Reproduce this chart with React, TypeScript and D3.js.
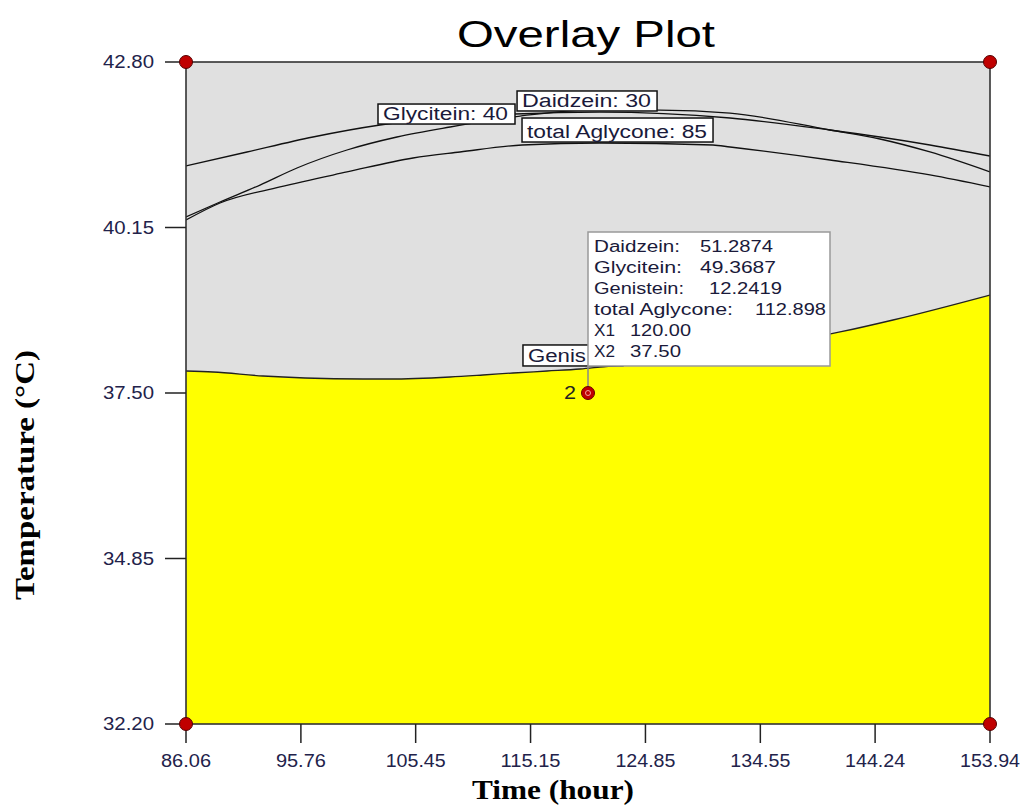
import React from 'react';
import * as d3 from 'd3';

// ---- Data ----
const xTickValues = [86.06, 95.76, 105.45, 115.15, 124.85, 134.55, 144.24, 153.94];
const yTickValues = [32.2, 34.85, 37.5, 40.15, 42.8];

// Contour: Glycitein = 40
const glyTime = [86.06, 91.21, 96.78, 102.44, 113.84, 121.01, 131.99, 140.43, 144.65, 148.87, 153.94];
const glyTemp = [41.135, 41.359, 41.599, 41.791, 41.967, 41.999, 41.903, 41.711, 41.599, 41.471, 41.295];

// Contour: Daidzein = 30
const daiTime = [86.06, 88.93, 92.31, 95.43, 99.65, 103.87, 108.35, 114.26, 120.17, 126.08, 131.99, 140.43, 144.65, 148.87, 153.94];
const daiTemp = [40.318, 40.558, 40.830, 41.103, 41.391, 41.599, 41.759, 41.935, 42.031, 42.031, 41.983, 41.711, 41.567, 41.359, 41.039];

// Contour: total Aglycone = 85
const aglTime = [86.06, 88.93, 94.0, 99.65, 105.23, 109.19, 114.43, 121.01, 130.55, 131.99, 140.43, 148.87, 153.94];
const aglTemp = [40.270, 40.542, 40.799, 41.039, 41.263, 41.359, 41.471, 41.503, 41.471, 41.439, 41.231, 40.991, 40.799];

// Contour: Genistein = 10 (upper edge of the feasible yellow region)
const genTime = [86.06, 88.34, 92.56, 96.11, 101.0, 103.28, 108.35, 111.13, 113.67, 116.54, 119.33, 121.01, 129.46, 135.37, 141.28, 145.75, 153.94];
const genTemp = [37.852, 37.836, 37.772, 37.740, 37.724, 37.724, 37.756, 37.788, 37.820, 37.852, 37.884, 37.916, 38.092, 38.268, 38.477, 38.669, 39.069];

// Design point
const pointTime = 120.0;
const pointTemp = 37.5;
const pointName = '2';
const tipNames = ['Daidzein:', 'Glycitein:', 'Genistein:', 'total Aglycone:', 'X1', 'X2'];
const tipValues = ['51.2874', '49.3687', '12.2419', '112.898', '120.00', '37.50'];

// ---- Layout ----
const W = 1021;
const H = 805;
const L = 186, R = 990, TOP = 62, BOT = 724;

const xS = d3.scaleLinear().domain([86.06, 153.94]).range([L, R]);
const yS = d3.scaleLinear().domain([32.2, 42.8]).range([BOT, TOP]);

const zip = (a: number[], b: number[]) => a.map((v, i) => [v, b[i]] as [number, number]);

const line = d3.line<[number, number]>().x(d => xS(d[0])).y(d => yS(d[1])).curve(d3.curveMonotoneX);
const area = d3.area<[number, number]>().x(d => xS(d[0])).y0(BOT).y1(d => yS(d[1])).curve(d3.curveMonotoneX);

const SANS = '"Liberation Sans", Arial, sans-serif';
const SERIF = '"Liberation Serif", "Times New Roman", serif';
const TICK_COLOR = '#22224a';

function T(props: { x: number; y: number; w: number; size: number; children: string; fill?: string; weight?: string; family?: string }) {
  return (
    <text x={props.x} y={props.y} fontSize={props.size} fontFamily={props.family || SANS}
      fontWeight={props.weight || 'normal'} fill={props.fill || '#111'}
      textLength={props.w} lengthAdjust="spacingAndGlyphs" style={{ whiteSpace: 'pre' }}>
      {props.children}
    </text>
  );
}

function LabelBox(props: { t: number; temp: number; w: number; h: number; text: string; tw: number }) {
  const x = xS(props.t);
  const y = yS(props.temp);
  return (
    <g>
      <rect x={x} y={y} width={props.w} height={props.h} fill="#fff" stroke="#111" strokeWidth={1.5} />
      <T x={x + 5} y={y + props.h - 4} w={props.tw} size={18} fill="#1a1a3a">{props.text}</T>
    </g>
  );
}

export default function App() {
  const px = xS(pointTime);
  const py = yS(pointTemp);
  const tipX = px, tipY = py - 161, tipW = 242, tipH = 134;
  const valueX = [700, 700, 709, 755, 630, 630];
  const valueW = [73, 76, 73, 71, 61, 51];
  const nameW = [86, 88, 90, 139, 21, 21];
  const corners: [number, number][] = [[86.06, 32.2], [86.06, 42.8], [153.94, 32.2], [153.94, 42.8]];

  return (
    <svg width={W} height={H} style={{ position: 'absolute', left: 0, top: 0, background: '#fff' }}>
      <defs>
        <clipPath id="plotClip"><rect x={L} y={TOP} width={R - L} height={BOT - TOP} /></clipPath>
      </defs>
      {/* Title */}
      <T x={457} y={47} w={258} size={36} fill="#000">Overlay Plot</T>

      {/* Plot background */}
      <rect x={L} y={TOP} width={R - L} height={BOT - TOP} fill="#e0e0e0" />
      <g clipPath="url(#plotClip)">
        <path d={area(zip(genTime, genTemp)) || ''} fill="#ffff00" />
        <path d={line(zip(genTime, genTemp)) || ''} fill="none" stroke="#222" strokeWidth={1.3} />
        <path d={line(zip(glyTime, glyTemp)) || ''} fill="none" stroke="#111" strokeWidth={1.3} />
        <path d={line(zip(daiTime, daiTemp)) || ''} fill="none" stroke="#111" strokeWidth={1.3} />
        <path d={line(zip(aglTime, aglTemp)) || ''} fill="none" stroke="#111" strokeWidth={1.3} />
      </g>

      {/* Contour labels */}
      <LabelBox t={102.27} temp={42.127} w={137} h={20} text="Glycitein: 40" tw={125} />
      <LabelBox t={114.01} temp={42.336} w={140} h={20} text="Daidzein: 30" tw={129} />
      <LabelBox t={114.43} temp={41.903} w={191} h={24} text="total Aglycone: 85" tw={180} />
      <LabelBox t={114.51} temp={38.269} w={100} h={21} text="Genis" tw={58} />

      {/* Frame */}
      <rect x={L} y={TOP} width={R - L} height={BOT - TOP} fill="none" stroke="#333" strokeWidth={1.6} />

      {/* Y axis ticks */}
      {yTickValues.map(v => (
        <g key={'y' + v}>
          <line x1={165} x2={L} y1={yS(v)} y2={yS(v)} stroke="#222" strokeWidth={1.5} />
          <T x={103} y={yS(v) + 6} w={51} size={18} fill={TICK_COLOR}>{v.toFixed(2)}</T>
        </g>
      ))}
      {/* X axis ticks */}
      {xTickValues.map(v => {
        const s = v.toFixed(2);
        const w = s.length * 10;
        return (
          <g key={'x' + v}>
            <line x1={xS(v)} x2={xS(v)} y1={BOT} y2={743} stroke="#222" strokeWidth={1.5} />
            <T x={xS(v) - w / 2} y={767} w={w} size={18} fill={TICK_COLOR}>{s}</T>
          </g>
        );
      })}

      {/* Axis titles */}
      <T x={472} y={799} w={162} size={27} weight="bold" family={SERIF} fill="#000">Time (hour)</T>
      <g transform="translate(34,600) rotate(-90)">
        <T x={0} y={0} w={250} size={27} weight="bold" family={SERIF} fill="#000">Temperature (°C)</T>
      </g>

      {/* Corner points */}
      {corners.map((c, i) => (
        <circle key={'c' + i} cx={xS(c[0])} cy={yS(c[1])} r={6.5} fill="#c00000" stroke="#500" strokeWidth={1} />
      ))}

      {/* Tooltip */}
      <line x1={px} x2={px} y1={tipY + tipH} y2={py} stroke="#888" strokeWidth={1.5} />
      <rect x={tipX} y={tipY} width={tipW} height={tipH} fill="#fff" stroke="#999" strokeWidth={1.5} />
      {tipNames.map((n, i) => (
        <g key={'tip' + i}>
          <T x={594} y={tipY + 20 + i * 21} w={nameW[i]} size={16} fill="#1a1a3a">{n}</T>
          <T x={valueX[i]} y={tipY + 20 + i * 21} w={valueW[i]} size={16} fill="#1a1a3a">{tipValues[i]}</T>
        </g>
      ))}

      {/* Design point */}
      <circle cx={px} cy={py} r={6.5} fill="#c00000" stroke="#600" strokeWidth={1} />
      <circle cx={px} cy={py} r={2.5} fill="none" stroke="#f0a0a0" strokeWidth={1} />
      <T x={564} y={399} w={12} size={18} fill="#222">{pointName}</T>
    </svg>
  );
}
